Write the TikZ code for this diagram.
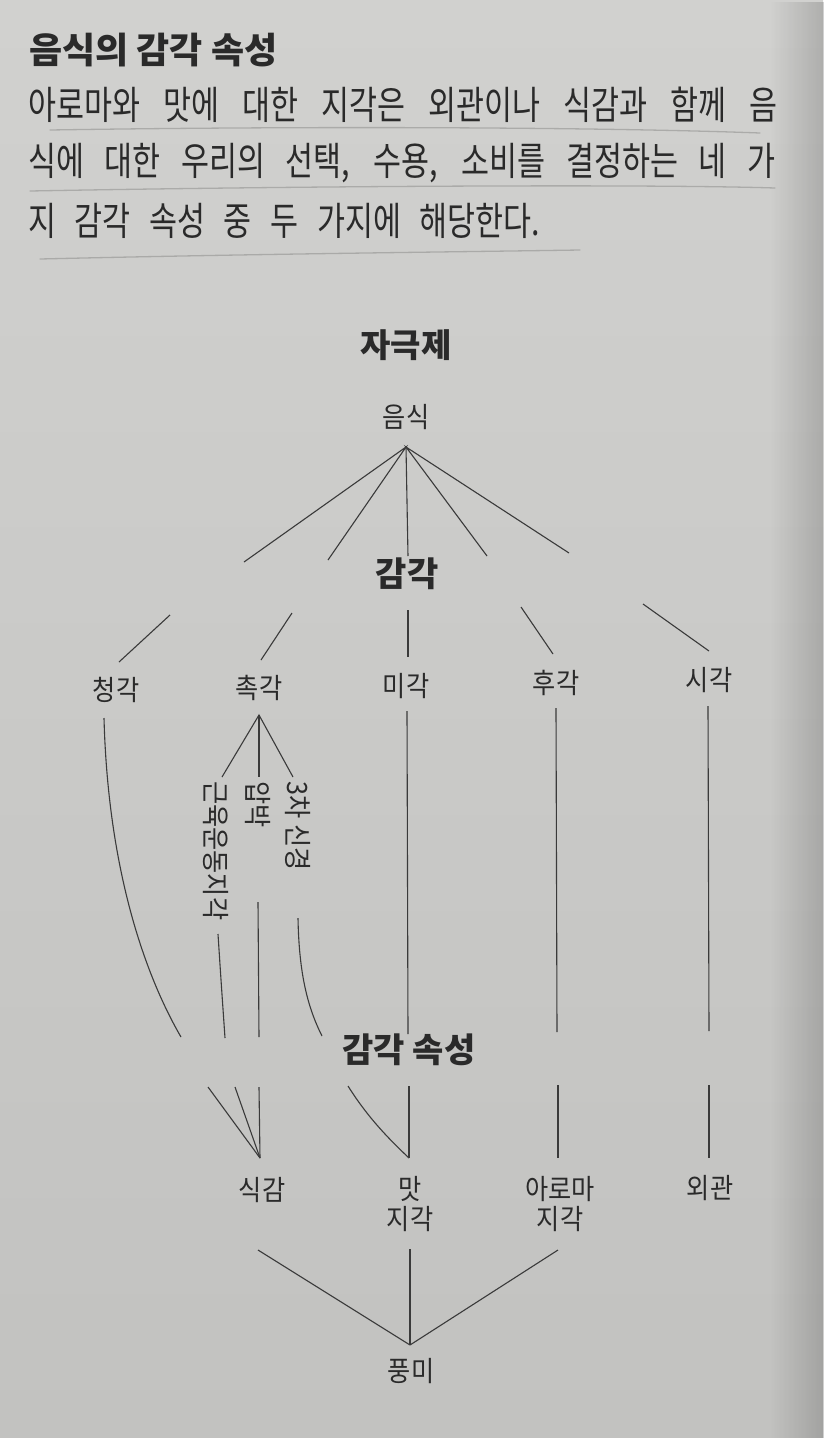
\documentclass[tikz,border=0pt]{standalone}
\usepackage{fontspec}
\setmainfont{Noto Sans CJK KR}
\newfontfamily\bodyfont{Noto Sans CJK KR}[FakeStretch=0.78]
\newfontfamily\lblfont{Noto Sans CJK KR}[FakeStretch=0.9]
\usetikzlibrary{fadings}
\definecolor{bgtop}{HTML}{D1D1CF}
\definecolor{bgbot}{HTML}{C2C2C0}
\definecolor{txt}{HTML}{2A2A2A}
\definecolor{ln}{HTML}{3A3A3A}
\definecolor{pen}{HTML}{8E8E8C}
\tikzfading[name=rightfade, left color=transparent!100, right color=transparent!0]
\begin{document}
\begin{tikzpicture}[x=1pt,y=-1pt,
  lbl/.style={inner sep=0pt, text=txt, font=\lblfont\fontsize{28}{30}\selectfont, align=center},
  head/.style={inner sep=0pt, text=txt, font=\fontsize{33}{36}\selectfont\bfseries},
  body/.style={inner sep=0pt, anchor=west, text=txt, font=\bodyfont\fontsize{39}{41}\selectfont},
  conn/.style={draw=ln, line width=1.1pt},
  pencil/.style={draw=pen, line width=1.3pt, opacity=0.55, line cap=round}]
\useasboundingbox (0,0) rectangle (823,1438);
% background
\shade[top color=bgtop, bottom color=bgbot] (0,0) rectangle (823,1438);
\fill[black, path fading=rightfade, fit fading=true, opacity=0.17] (770,-2) rectangle (825,1440);

% header text
\node[inner sep=0pt, anchor=west, text=txt, font=\fontsize{36}{38}\selectfont\bfseries] (title) at (29,50) {음식의 감각 속성};
\node[body] (l1) at (28,105) {\makebox[749pt][s]{아로마와 맛에 대한 지각은 외관이나 식감과 함께 음}};
\node[body] (l2) at (28,163) {\makebox[747pt][s]{식에 대한 우리의 선택, 수용, 소비를 결정하는 네 가}};
\node[body] (l3) at (28,221) {\makebox[512pt][s]{지 감각 속성 중 두 가지에 해당한다.}};
% pencil underlines
\draw[pencil] (50,130) .. controls (300,126) and (600,127) .. (760,133);
\draw[pencil] (30,191) .. controls (300,186) and (650,184) .. (775,188);
\draw[pencil] (40,259) .. controls (250,254) and (450,252) .. (580,250);

% level labels
\node[head] (stim) at (406,345) {자극제};
\node[lbl] (food) at (406,417) {음식};
\node[head, font=\fontsize{34}{36}\selectfont\bfseries] (sense) at (407,574) {감각};
\node[lbl] (hear) at (116,690) {청각};
\node[lbl] (touch) at (259,688) {촉각};
\node[lbl] (taste) at (406,686) {미각};
\node[lbl] (smell) at (556,683) {후각};
\node[lbl] (sight) at (709,680) {시각};
\node[lbl, rotate=-90, anchor=west] (kin) at (216,781) {근육운동지각};
\node[lbl, rotate=-90, anchor=west] (press) at (258,781) {압박};
\node[lbl, rotate=-90, anchor=west] (trig) at (298,781) {3차 신경};
\node[head, font=\fontsize{34}{36}\selectfont\bfseries] (attr) at (409,1050) {감각 속성};
\node[lbl] (texture) at (262,1190) {식감};
\node[lbl] (tastep) at (410,1204) {맛\\지각};
\node[lbl] (aroma) at (560,1204) {아로마\\지각};
\node[lbl] (appear) at (710,1188) {외관};
\node[lbl] (flavor) at (411,1371) {풍미};

% connector coordinates
\coordinate (fa) at (406,447);
\coordinate (f1) at (244,562);
\coordinate (f2) at (328,560);
\coordinate (f3) at (408,556);
\coordinate (f4) at (487,556);
\coordinate (f5) at (569,553);
\coordinate (s1a) at (170,615); \coordinate (s1b) at (119,662);
\coordinate (s2a) at (292,613); \coordinate (s2b) at (261,660);
\coordinate (s3a) at (408,610); \coordinate (s3b) at (408,657);
\coordinate (s4a) at (521,607); \coordinate (s4b) at (553,654);
\coordinate (s5a) at (643,604); \coordinate (s5b) at (709,651);
\coordinate (ta) at (259,715);
\coordinate (t1) at (222,777); \coordinate (t2) at (259,777); \coordinate (t3) at (293,777);
\coordinate (h0) at (104,718); \coordinate (h1) at (181,1037);
\coordinate (k0) at (218,934); \coordinate (k1) at (225,1038);
\coordinate (p0) at (258,902); \coordinate (p1) at (259,1037);
\coordinate (g0) at (298,918); \coordinate (g1) at (322,1036);
\coordinate (m0) at (407,711); \coordinate (m1) at (408,1034);
\coordinate (o0) at (556,708); \coordinate (o1) at (557,1032);
\coordinate (v0) at (708,706); \coordinate (v1) at (709,1031);
\coordinate (c1) at (208,1087); \coordinate (c2) at (235,1087); \coordinate (c3) at (259,1087);
\coordinate (ca) at (260,1158);
\coordinate (mc) at (348,1086); \coordinate (mv) at (409,1086); \coordinate (mt) at (409,1158);
\coordinate (a0) at (558,1085); \coordinate (a1) at (558,1158);
\coordinate (e0) at (709,1085); \coordinate (e1) at (709,1158);
\coordinate (b1) at (258,1250); \coordinate (b2) at (410,1249); \coordinate (b3) at (558,1250);
\coordinate (fl) at (410,1345);

% connectors
\draw[conn] (f1) -- (fa) -- (f2);
\draw[conn] (fa) -- (f3);
\draw[conn] (f4) -- (fa) -- (f5);
\draw[conn] (s1a) -- (s1b);
\draw[conn] (s2a) -- (s2b);
\draw[conn] (s3a) -- (s3b);
\draw[conn] (s4a) -- (s4b);
\draw[conn] (s5a) -- (s5b);
\draw[conn] (t1) -- (ta) -- (t3);
\draw[conn] (ta) -- (t2);
\draw[conn] (h0) .. controls (108,870) and (145,975) .. (h1);
\draw[conn] (k0) .. controls (221,980) .. (k1);
\draw[conn] (p0) -- (p1);
\draw[conn] (g0) .. controls (299,975) and (308,1008) .. (g1);
\draw[conn] (m0) -- (m1);
\draw[conn] (o0) -- (o1);
\draw[conn] (v0) -- (v1);
\draw[conn] (c1) -- (ca);
\draw[conn] (c2) -- (ca);
\draw[conn] (c3) -- (ca);
\draw[conn] (mc) .. controls (368,1118) and (390,1140) .. (mt);
\draw[conn] (mv) -- (mt);
\draw[conn] (a0) -- (a1);
\draw[conn] (e0) -- (e1);
\draw[conn] (b1) -- (fl);
\draw[conn] (b2) -- (fl);
\draw[conn] (b3) -- (fl);
\end{tikzpicture}
\end{document}
